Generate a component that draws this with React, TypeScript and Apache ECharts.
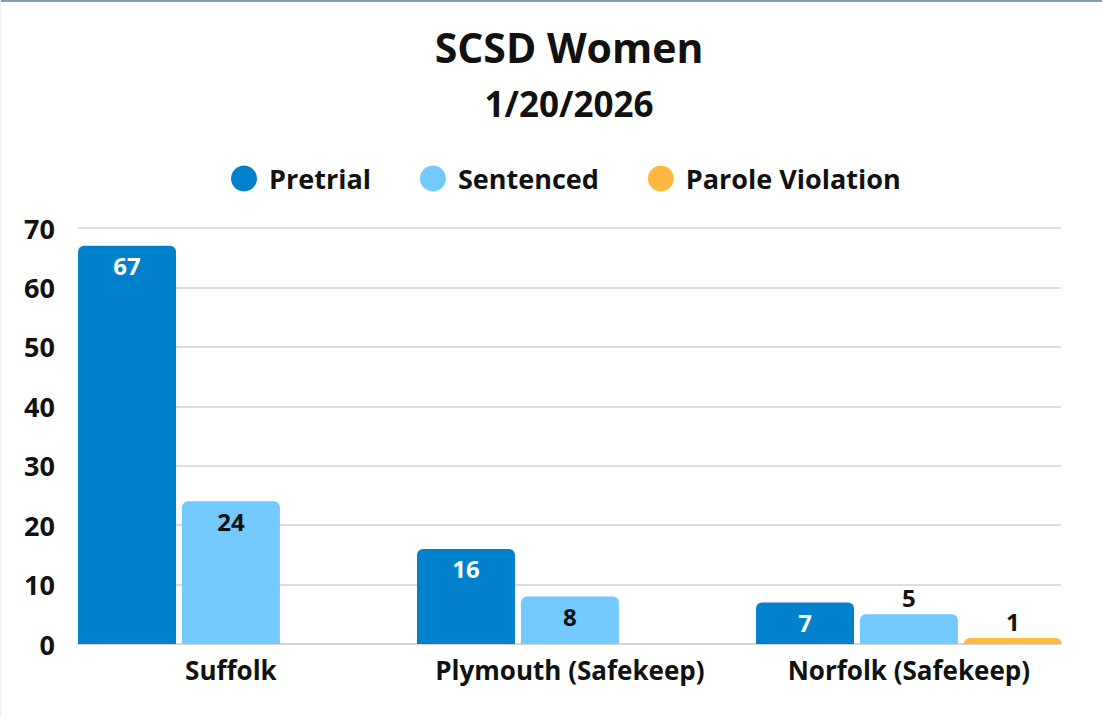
import React, { useEffect, useRef } from "react";
import * as echarts from "echarts";

const title = "SCSD Women";
const subtitle = "1/20/2026";
const categories = ["Suffolk", "Plymouth (Safekeep)", "Norfolk (Safekeep)"];
const seriesNames = ["Pretrial", "Sentenced", "Parole Violation"];
const pretrial = [67, 16, 7];
const sentenced = [24, 8, 5];
const parole: (number | null)[] = [null, null, 1];
const colors = ["#0180CC", "#72CAFE", "#FFB840"];
const insideLabelColors = ["#FFFFFF", "#111111", "#111111"];
const yTicks = [0, 10, 20, 30, 40, 50, 60, 70];

const FONT = "'Open Sans', sans-serif";

function buildData(values: (number | null)[], idx: number) {
  return values.map((v) => {
    if (v === null) return null;
    const inside = v >= 7;
    return {
      value: v,
      label: {
        position: inside ? "insideTop" : "top",
        color: inside ? insideLabelColors[idx] : "#111111",
        distance: inside ? 8 : 5,
      },
    };
  });
}

export default function App() {
  const ref = useRef<HTMLDivElement>(null);
  useEffect(() => {
    if (!ref.current) return;
    const chart = echarts.init(ref.current, null, { renderer: "svg" });
    const allSeries = [pretrial, sentenced, parole];
    const yMax = yTicks[yTicks.length - 1];
    chart.setOption({
      animation: false,
      backgroundColor: "#FFFFFF",
      legend: {
        top: 160,
        left: 226,
        icon: "circle",
        itemWidth: 26,
        itemHeight: 26,
        itemGap: 49,
        textStyle: { fontFamily: FONT, fontWeight: "bold", fontSize: 27, color: "#111111", padding: [0, 0, 0, 7] },
        data: seriesNames,
      },
      grid: [
        { left: 61.4, right: 23.6, top: 228, bottom: 73 },
        { left: 78, right: 41, top: 228, bottom: 73 },
      ],
      xAxis: [
        {
          type: "category",
          gridIndex: 0,
          data: categories,
          axisLine: { show: false },
          axisTick: { show: false },
          axisLabel: {
            interval: 0,
            margin: 13,
            fontFamily: FONT,
            fontWeight: "bold",
            fontSize: 26,
            color: "#111111",
          },
        },
        {
          type: "category",
          gridIndex: 1,
          data: categories,
          axisLine: { show: true, lineStyle: { color: "#D2D2D2", width: 1.5 } },
          axisTick: { show: false },
          axisLabel: { show: false },
        },
      ],
      yAxis: [
        {
          type: "value",
          gridIndex: 0,
          min: 0,
          max: yMax,
          interval: 10,
          show: false,
        },
        {
          type: "value",
          gridIndex: 1,
          min: 0,
          max: yMax,
          interval: 10,
          axisLine: { show: false },
          axisTick: { show: false },
          splitLine: { show: true, lineStyle: { color: "#D2D2D2", width: 1.5 } },
          axisLabel: {
            margin: 23,
            fontFamily: FONT,
            fontWeight: "bold",
            fontSize: 27,
            color: "#111111",
          },
        },
      ],
      graphic: [
        { type: "rect", shape: { x: 0, y: 0, width: 1102, height: 2 }, style: { fill: "#8A9AB4" } },
        { type: "rect", shape: { x: 0, y: 0, width: 1, height: 717 }, style: { fill: "#EEEEEE" } },
        {
          type: "text",
          x: 569,
          y: 47,
          style: {
            text: title,
            fontFamily: FONT,
            fontWeight: "bold",
            fontSize: 41,
            fill: "#111111",
            align: "center",
            verticalAlign: "middle",
          },
        },
        {
          type: "text",
          x: 569,
          y: 103,
          style: {
            text: subtitle,
            fontFamily: FONT,
            fontWeight: "bold",
            fontSize: 35,
            fill: "#111111",
            align: "center",
            verticalAlign: "middle",
          },
        },
      ],
      series: allSeries.map((vals, i) => ({
        name: seriesNames[i],
        type: "bar",
        xAxisIndex: 0,
        yAxisIndex: 0,
        barWidth: 98,
        barGap: "6%",
        itemStyle: { color: colors[i], borderRadius: [6, 6, 0, 0] },
        label: {
          show: true,
          fontFamily: FONT,
          fontWeight: "bold",
          fontSize: 24,
        },
        data: buildData(vals, i),
      })),
    });
    return () => chart.dispose();
  }, []);
  return (
    <div
      ref={ref}
      style={{ position: "fixed", left: 0, top: 0, width: 1102, height: 717 }}
    />
  );
}
